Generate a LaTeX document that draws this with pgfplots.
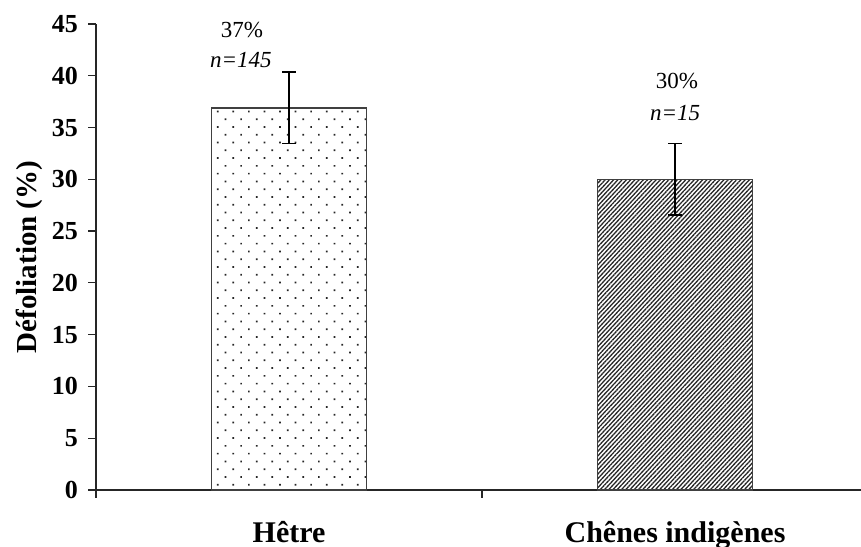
\documentclass[border=0pt]{standalone}
\usepackage{fontspec}
\setmainfont{Liberation Serif}
\usepackage{pgfplots}
\pgfplotsset{compat=1.18}
\usetikzlibrary{patterns.meta}

\definecolor{edgegray}{RGB}{64,64,64}

\begin{document}
\begin{tikzpicture}
\begin{axis}[
  set layers,
  scale only axis,
  width=386pt, height=233pt,
  xmin=-0.5, xmax=1.5,
  ymin=0, ymax=45,
  axis x line*=bottom, axis y line*=left,
  axis line style={line width=0.8pt, black!85},
  ytick={0,5,...,45},
  xtick={0,1},
  xticklabels={H\^etre, Ch\^enes indig\`enes},
  minor xtick={-0.5,0.5,1.5},
  tick align=outside,
  major tick length=4pt,
  minor tick length=4pt,
  x tick style={draw=none},
  minor x tick style={draw=black!85, line width=0.6pt},
  y tick style={line width=0.6pt, black!85},
  /pgf/number format/assume math mode=true,
  yticklabel style={font=\fontsize{13}{15}\selectfont\bfseries, xshift=-1.5pt},
  xticklabel style={font=\fontsize{15}{18}\selectfont\bfseries, yshift=-8pt},
  ylabel={D\'efoliation (\%)},
  ylabel style={font=\fontsize{14.5}{17}\selectfont\bfseries, yshift=-2pt},
  clip=false,
]
\coordinate (frameSW) at (rel axis cs:-0.1244,-0.1223);
\coordinate (frameNE) at (rel axis cs:0.9909,1.0515);

% Hêtre
\addplot[ybar, bar width=77.5pt, draw=edgegray, line width=0.75pt,
  pattern={Dots[distance=5.5pt, angle=45, radius=0.6pt]}, pattern color=black!85]
  coordinates {(0,36.9)};

% Chênes indigènes
\addplot[ybar, bar width=77.5pt, draw=edgegray, line width=0.75pt,
  pattern={Lines[angle=47, distance=1.55pt, line width=0.65pt]}, pattern color=black!85]
  coordinates {(1,30.0)};

% standard errors, on top of the bars
\addplot[draw=none, mark=none, forget plot, on layer=axis foreground,
  error bars/.cd, y dir=both, y explicit,
  error bar style={line width=0.8pt, black},
  error mark options={rotate=90, mark size=3.5pt, line width=0.8pt}]
  coordinates {(0,36.9) +- (0,3.45) (1,30.0) +- (0,3.45)};

\node[font=\fontsize{11.5}{13}\selectfont] at (axis cs:-0.122,44.4) {37\%};
\node[font=\fontsize{11.5}{13}\selectfont\itshape] at (axis cs:-0.125,41.5) {n=145};
\node[font=\fontsize{11.5}{13}\selectfont] at (axis cs:1.005,39.5) {30\%};
\node[font=\fontsize{11.5}{13}\selectfont\itshape] at (axis cs:1.0,36.4) {n=15};
\end{axis}
\pgfresetboundingbox
\useasboundingbox (frameSW) rectangle (frameNE);
\end{tikzpicture}
\end{document}
